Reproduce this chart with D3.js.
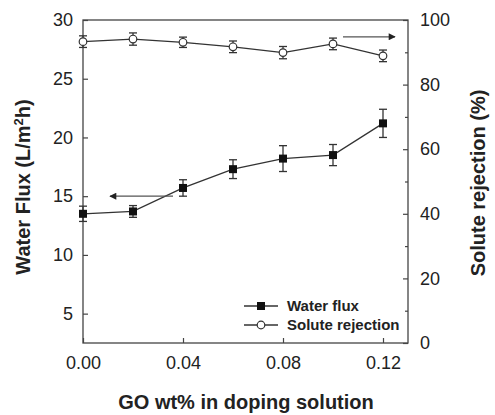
<!DOCTYPE html>
<html><head><meta charset="utf-8">
<script src="https://cdn.jsdelivr.net/npm/d3@7"></script>
<style>body{margin:0;background:#fff}svg{display:block}text{font-family:"Liberation Sans",Arial,sans-serif;fill:#222}</style>
</head><body><svg id="c" width="495" height="415"></svg>
<script>
const goWt = [0, 0.02, 0.04, 0.06, 0.08, 0.10, 0.12];
const waterFlux = [13.5, 13.7, 15.7, 17.3, 18.2, 18.5, 21.2];
const waterFluxErr = [0.65, 0.5, 0.7, 0.8, 1.1, 0.9, 1.2];
const rejection = [93.3, 94.1, 93.1, 91.7, 89.9, 92.6, 88.9];
const rejectionErr = [1.8, 1.9, 1.6, 1.8, 1.9, 1.8, 1.8];
const xTicks = [0, 0.04, 0.08, 0.12];
const leftTicks = [5, 10, 15, 20, 25, 30];
const rightTicks = [0, 20, 40, 60, 80, 100];
const rightMinor = [10, 30, 50, 70, 90];
const legendLabels = ["Water flux", "Solute rejection"];

const svg = d3.select("#c");
const L = 83, R = 408, T = 20, B = 343;
const x = d3.scaleLinear().domain([0, 0.13]).range([L, R]);
const yL = d3.scaleLinear().domain([2.5, 30]).range([B, T]);
const yR = d3.scaleLinear().domain([0, 100]).range([B, T]);
const ink = "#333";

// frame
svg.append("rect").attr("x", L).attr("y", T).attr("width", R - L).attr("height", B - T)
  .attr("fill", "none").attr("stroke", "#444").attr("stroke-width", 1.3);

// axes (ticks inward)
const fs = 18;
const ax = svg.append("g").attr("transform", `translate(0,${B})`)
  .call(d3.axisBottom(x).tickValues(xTicks).tickFormat(d3.format(".2f")).tickSizeInner(-5).tickSizeOuter(0).tickPadding(13));
const al = svg.append("g").attr("transform", `translate(${L},0)`)
  .call(d3.axisLeft(yL).tickValues(leftTicks).tickSizeInner(-5).tickSizeOuter(0).tickPadding(10));
const ar = svg.append("g").attr("transform", `translate(${R},0)`)
  .call(d3.axisRight(yR).tickValues(rightTicks).tickSizeInner(-5).tickSizeOuter(0).tickPadding(12));
const arm = svg.append("g").attr("transform", `translate(${R},0)`)
  .call(d3.axisRight(yR).tickValues(rightMinor).tickSizeInner(-3).tickSizeOuter(0).tickFormat(""));
[ax, al, ar, arm].forEach(g => {
  g.select(".domain").remove();
  g.selectAll("line").attr("stroke", "#444").attr("stroke-width", 1.2);
  g.selectAll("text").attr("font-size", fs).attr("fill", "#222")
   .style("font-family", '"Liberation Sans",Arial,sans-serif');
});

// lines
const lineL = d3.line().x((d, i) => x(goWt[i])).y(d => yL(d));
const lineR = d3.line().x((d, i) => x(goWt[i])).y(d => yR(d));
svg.append("path").attr("d", lineL(waterFlux)).attr("fill", "none").attr("stroke", ink).attr("stroke-width", 1.3);
svg.append("path").attr("d", lineR(rejection)).attr("fill", "none").attr("stroke", ink).attr("stroke-width", 1.3);

// error bars
function errBars(vals, errs, ys) {
  const g = svg.append("g").attr("stroke", ink).attr("stroke-width", 1.3);
  vals.forEach((v, i) => {
    const cx = x(goWt[i]), t = ys(v + errs[i]), b = ys(v - errs[i]);
    g.append("line").attr("x1", cx).attr("x2", cx).attr("y1", t).attr("y2", b);
    g.append("line").attr("x1", cx - 4).attr("x2", cx + 4).attr("y1", t).attr("y2", t);
    g.append("line").attr("x1", cx - 4).attr("x2", cx + 4).attr("y1", b).attr("y2", b);
  });
}
errBars(waterFlux, waterFluxErr, yL);
errBars(rejection, rejectionErr, yR);

// markers
svg.selectAll(".sq").data(waterFlux).join("rect").attr("class", "sq")
  .attr("x", (d, i) => x(goWt[i]) - 4).attr("y", d => yL(d) - 4)
  .attr("width", 8).attr("height", 8).attr("fill", "#111");
svg.selectAll(".ci").data(rejection).join("circle").attr("class", "ci")
  .attr("cx", (d, i) => x(goWt[i])).attr("cy", d => yR(d)).attr("r", 3.8)
  .attr("fill", "#fff").attr("stroke", ink).attr("stroke-width", 1.2);

// arrows
svg.append("defs").append("marker").attr("id", "ah").attr("viewBox", "0 0 10 10")
  .attr("refX", 9).attr("refY", 5).attr("markerWidth", 9).attr("markerHeight", 7)
  .attr("markerUnits", "userSpaceOnUse").attr("orient", "auto")
  .append("path").attr("d", "M0,0L10,5L0,10Z").attr("fill", "#222");
svg.append("line").attr("x1", x(0.036)).attr("x2", x(0.0108)).attr("y1", yL(15.0)).attr("y2", yL(15.0))
  .attr("stroke", "#555").attr("stroke-width", 1.2).attr("marker-end", "url(#ah)");
svg.append("line").attr("x1", x(0.104)).attr("x2", x(0.1248)).attr("y1", yR(94.8)).attr("y2", yR(94.8))
  .attr("stroke", "#555").attr("stroke-width", 1.2).attr("marker-end", "url(#ah)");

// legend
const lg = svg.append("g");
legendLabels.forEach((lab, i) => {
  const yy = 306 + i * 19;
  lg.append("line").attr("x1", 244).attr("x2", 278).attr("y1", yy).attr("y2", yy).attr("stroke", ink).attr("stroke-width", 1.3);
  if (i === 0) lg.append("rect").attr("x", 257).attr("y", yy - 4).attr("width", 8).attr("height", 8).attr("fill", "#111");
  else lg.append("circle").attr("cx", 261).attr("cy", yy).attr("r", 3.8).attr("fill", "#fff").attr("stroke", ink).attr("stroke-width", 1.2);
  lg.append("text").attr("x", 287).attr("y", yy).attr("dy", "0.36em").attr("font-size", 15).attr("font-weight", "bold").text(lab);
});

// titles
svg.append("text").attr("x", 246).attr("y", 409).attr("text-anchor", "middle")
  .attr("font-size", 20).attr("font-weight", "bold").text("GO wt% in doping solution");
const lt = svg.append("text").attr("transform", "translate(30,187) rotate(-90)").attr("text-anchor", "middle")
  .attr("font-size", 20).attr("font-weight", "bold");
lt.append("tspan").text("Water Flux (L/m");
lt.append("tspan").attr("font-size", 13).attr("dy", -7).text("2");
lt.append("tspan").attr("dy", 7).text("h)");
svg.append("text").attr("transform", "translate(485,183) rotate(-90)").attr("text-anchor", "middle")
  .attr("font-size", 20).attr("font-weight", "bold").text("Solute rejection (%)");
</script></body></html>
